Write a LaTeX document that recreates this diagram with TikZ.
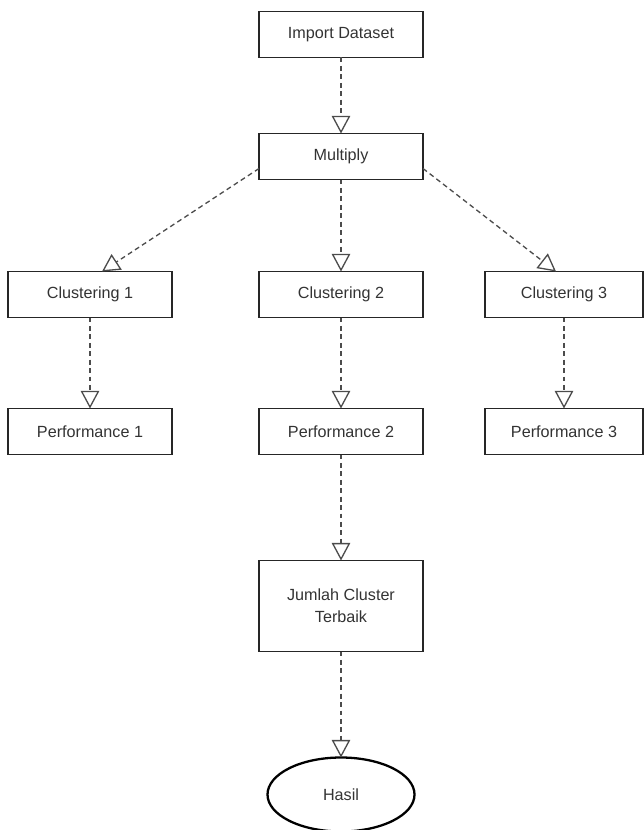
\documentclass[tikz,border=0pt]{standalone}
\usepackage{fontspec}
\setmainfont{Liberation Sans}
\usepackage{tikz}
\usetikzlibrary{shapes.geometric, arrows.meta, positioning}

\begin{document}
\begin{tikzpicture}[
		node distance=1.84cm and 1.74cm,
		every node/.style={font=\fontsize{9.2pt}{12.5pt}\selectfont, text=black!80},
		box/.style={draw=black!85, line width=0.7pt, minimum width=3.28cm, minimum height=0.92cm, align=center, outer sep=0pt},
		result/.style={ellipse, draw=black, line width=1.3pt, minimum width=2.94cm, minimum height=1.48cm, inner sep=0pt, outer sep=0pt},
		flow/.style={draw=black!70, line width=0.75pt, dash pattern=on 2.8pt off 2pt, -{Triangle[open, length=10pt, width=10.5pt]}}
		]
		\useasboundingbox (0,0) rectangle (12.88,-16.6);
		
		% Nodes
		\node[box] (import) at (6.82,-0.69) {Import Dataset};
		\node[box, below=1.52cm of import] (multiply) {Multiply};
		\node[box, below=of multiply] (clust2) {Clustering 2};
		\node[box, left=of clust2] (clust1) {Clustering 1};
		\node[box, right=1.24cm of clust2, minimum width=3.16cm] (clust3) {Clustering 3};
		\node[box, below=1.82cm of clust1] (perf1) {Performance 1};
		\node[box, below=1.82cm of clust2] (perf2) {Performance 2};
		\node[box, below=1.82cm of clust3, minimum width=3.16cm] (perf3) {Performance 3};
		\node[box, below=2.12cm of perf2, minimum height=1.82cm] (best) {Jumlah Cluster\\Terbaik};
		\node[result, below=2.12cm of best] (hasil) {Hasil};
		
		% Arrows
		\draw[flow] (import) -- (multiply);
		\draw[flow] ([yshift=-0.24cm]multiply.west) -- ([xshift=0.24cm]clust1.north);
		\draw[flow] (multiply) -- (clust2);
		\draw[flow] ([yshift=-0.24cm]multiply.east) -- ([xshift=-0.16cm]clust3.north);
		\draw[flow] (clust1) -- (perf1);
		\draw[flow] (clust2) -- (perf2);
		\draw[flow] (clust3) -- (perf3);
		\draw[flow] (perf2) -- (best);
		\draw[flow] (best) -- (hasil);
		
\end{tikzpicture}
\end{document}
